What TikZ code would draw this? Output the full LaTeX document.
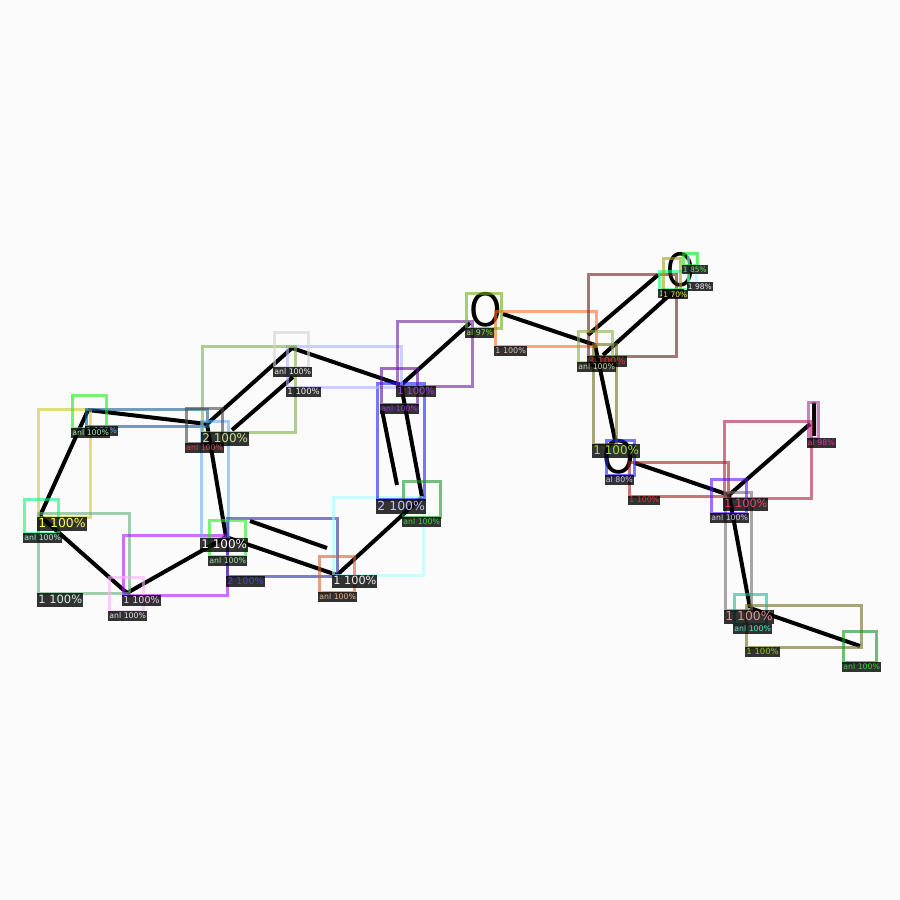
\documentclass[tikz,border=0pt]{standalone}
\usepackage{fontspec}
\setmainfont{DejaVu Sans}
\usetikzlibrary{fit}

\tikzset{
    edgehue/.code={\definecolor{curedge}{HTML}{#1}\pgfkeysalso{draw=curedge}},
    texthue/.code={\definecolor{curtext}{HTML}{#1}\pgfkeysalso{text=curtext}},
    det/.style={edgehue=#1, draw opacity=.6, line width=3.2pt, inner sep=.8pt, outer sep=0pt},
    lab/.style 2 args={texthue=#1, fill=black, fill opacity=.8, text opacity=1,
        font=\fontsize{#2}{#2}\selectfont, text height=#2*.85pt, text depth=#2*.25pt,
        inner xsep=1pt, inner ysep=.5pt, anchor=north west, xshift=-1.5pt, yshift=.8pt},
    bondline/.style={line width=4pt, black},
    glyph/.style={font=\fontsize{46}{46}\selectfont, inner sep=0pt, xscale=.9, transform shape}
}

\begin{document}
\begin{tikzpicture}[x=1pt, y=-1pt]
        \fill[white!98.5!black] (0,0) rectangle (900,900);
        \useasboundingbox (0,0) rectangle (900,900);

        \coordinate (n1) at (88,410);
        \coordinate (n2) at (40,516);
        \coordinate (n3) at (127,593);
        \coordinate (n4) at (226,537);
        \coordinate (n5) at (207,424);
        \coordinate (n6) at (292,348);
        \coordinate (n7) at (401,385);
        \coordinate (n8) at (422,497);
        \coordinate (n9) at (337,575);
        \coordinate (n10) at (470,323);
        \coordinate (n11) at (503,314);
        \coordinate (n12) at (595,345);
        \coordinate (n13) at (615,440);
        \coordinate (n14) at (635,463);
        \coordinate (n15) at (729,495);
        \coordinate (n16) at (810,424);
        \coordinate (n17) at (750,608);
        \coordinate (n18) at (860,646);
        \coordinate (in1) at (232,430);
        \coordinate (in2) at (293,377);
        \coordinate (in3) at (382,410);
        \coordinate (in4) at (397,485);
        \coordinate (in5) at (250,521);
        \coordinate (in6) at (327,548);
        \coordinate (up1) at (588,335);
        \coordinate (up2) at (658,275);
        \coordinate (up3) at (603,355);
        \coordinate (up4) at (673,292);

        \draw[bondline] (n1) -- (n2);
        \draw[bondline] (n1) -- (n5);
        \draw[bondline] (n2) -- (n3);
        \draw[bondline] (n3) -- (n4);
        \draw[bondline] (n5) -- (n4);
        \draw[bondline] (n4) -- (n9);
        \draw[bondline] (n9) -- (n8);
        \draw[bondline] (n7) -- (n8);
        \draw[bondline] (n6) -- (n7);
        \draw[bondline] (n5) -- (n6);
        \draw[bondline] (n7) -- (n10);
        \draw[bondline] (n11) -- (n12);
        \draw[bondline] (n12) -- (n13);
        \draw[bondline] (n14) -- (n15);
        \draw[bondline] (n15) -- (n16);
        \draw[bondline] (n15) -- (n17);
        \draw[bondline] (n17) -- (n18);
        \draw[bondline] (in1) -- (in2);
        \draw[bondline] (in3) -- (in4);
        \draw[bondline] (in5) -- (in6);
        \draw[bondline] (up1) -- (up2);
        \draw[bondline] (up3) -- (up4);

        \node[glyph] (oleft) at (486,310) {O};
        \node[glyph, xscale=.87] (otop) at (681,270) {O};
        \node[glyph] (obot) at (619,457) {O};
        \node[glyph] (iod) at (815,420) {I};

        % bond boxes
        \node[draw, det=CBCB2B, fit={(39.5,410.5) (89.5,516.5)}] (bond1) {};
        \node[draw, det=116196, fit={(87.5,410.5) (206.5,425.5)}] (bond2) {};
        \node[draw, det=61B17B, fit={(39.5,514.5) (128.5,593)}] (bond3) {};
        \node[draw, det=B111FF, fit={(124.5,536.5) (226.5,594.5)}] (bond4) {};
        \node[draw, det=61B1FF, fit={(202.5,422.5) (227.5,538)}] (bond5) {};
        \node[draw, det=2B2BA4, fit={(228.5,519.5) (336.5,575.5)}] (bond6) {};
        \node[draw, det=A4FFFF, fit={(334.5,498) (422.5,574.5)}] (bond7) {};
        \node[draw, det=1E1EFF, fit={(378.5,384.5) (423.5,499)}] (bond8) {};
        \node[draw, det=B1B1FF, fit={(288.5,347.5) (400.5,386.5)}] (bond9) {};
        \node[draw, det=7BB146, fit={(203.5,347.5) (294.5,431.5)}] (bond10) {};
        \node[draw, det=6E1EA4, fit={(398.5,322.5) (471.5,385.5)}] (bond11) {};
        \node[draw, det=FF6E1E, fit={(496.5,312.5) (595.5,345.5)}] (bond12) {};
        \node[draw, det=6E1E1E, fit={(589.5,275.5) (675.5,355.5)}] (bond13) {};
        \node[draw, det=6E6E1E, fit={(594.5,345) (615.5,444)}] (bond14) {};
        \node[draw, det=A41E1E, fit={(630.5,463.5) (727.5,495.5)}] (bond15) {};
        \node[draw, det=B11E46, fit={(725.5,422.5) (810.5,497.5)}] (bond16) {};
        \node[draw, det=6E6E6E, fit={(726.5,493.5) (750.5,609.5)}] (bond17) {};
        \node[draw, det=6E6E1E, fit={(747.5,606.5) (860.5,646.5)}] (bond18) {};

        % atom boxes
        \node[draw, det=11F311, fit={(73.5,396.5) (105.5,428)}] (atom1) {};
        \node[draw, det=11F37B, fit={(25.5,500.5) (57.5,533)}] (atom2) {};
        \node[draw, det=FFB1FF, fit={(110.5,578.5) (142.5,611)}] (atom3) {};
        \node[draw, det=22EE22, fit={(210.5,521.5) (244.5,556)}] (atom4) {};
        \node[draw, det=464646, fit={(187.5,409.5) (221.5,443)}] (atom5) {};
        \node[draw, det=D2D2D2, fit={(275.5,333.5) (307.5,367)}] (atom6) {};
        \node[draw, det=5F1196, fit={(382.5,369.5) (416.5,404)}] (atom7) {};
        \node[draw, det=1E962B, fit={(404.5,482.5) (439.5,517)}] (atom8) {};
        \node[draw, det=D9612B, fit={(320.5,557.5) (353.5,592)}] (atom9) {};
        \node[draw, det=6EB111, fit={(467.5,294.5) (500.5,328)}] (atom10) {};
        \node[draw, det=89B146, fit={(579.5,332) (611.5,362)}] (atom11) {};
        \node[draw, det=6111FF, fit={(712.5,480.5) (745.5,513)}] (atom12) {};
        \node[draw, det=11BE96, fit={(735.5,595.5) (765.5,624)}] (atom13) {};
        \node[draw, det=11961E, fit={(844.5,632.5) (875.5,662)}] (atom14) {};
        \node[draw, det=1E1EFF, fit={(607,441) (634,475)}] (atom15) {};
        \node[draw, det=B12B96, fit={(809,403) (818,438)}] (atom16) {};
        \node[draw, det=A4FFFF, fit={(689,254) (696,282)}] (atom17) {};
        \node[draw, det=11EE11, fit={(684,254) (697,265)}] (atom18) {};
        \node[draw, det=11FF7B, fit={(660.5,272.5) (687.5,289)}] (atom19) {};
        \node[draw, det=A4A411, fit={(664.5,259.5) (680,290)}] (atom20) {};

        % bond labels
        \node[lab={FFFF40}{12.4}] (lab1) at (bond1.south west) {1 100\%};
        \node[lab={60A0D0}{8}] (lab2) at (bond2.south west) {1 100\%};
        \node[lab={D0F0E0}{11.5}] (lab3) at (bond3.south west) {1 100\%};
        \node[lab={F0D0F0}{9.5}] (lab4) at (bond4.south west) {1 100\%};
        \node[lab={FFFFFF}{12}] (lab5) at (bond5.south west) {1 100\%};
        \node[lab={4040E0}{9.5}] (lab6) at (bond6.south west) {2 100\%};
        \node[lab={F0F0F0}{11.3}] (lab7) at (bond7.south west) {1 100\%};
        \node[lab={C0C0FF}{12.5}] (lab8) at (bond8.south west) {2 100\%};
        \node[lab={F0F0F0}{8.5}] (lab9) at (bond9.south west) {1 100\%};
        \node[lab={C8E090}{12}] (lab10) at (bond10.south west) {2 100\%};
        \node[lab={A040E0}{9.8}] (lab11) at (bond11.south west) {1 100\%};
        \node[lab={E0C0B0}{8}] (lab12) at (bond12.south west) {1 100\%};
        \node[lab={E03030}{9.8}] (lab13) at (bond13.south west) {3 100\%};
        \node[lab={A0E030}{12}] (lab14) at (bond14.south west) {1 100\%};
        \node[lab={E03030}{7.8}] (lab15) at (bond15.south west) {1 100\%};
        \node[lab={F04070}{11.3}] (lab16) at (bond16.south west) {1 100\%};
        \node[lab={E09090}{12.4}] (lab17) at (bond17.south west) {1 100\%};
        \node[lab={90C020}{8.5}] (lab18) at (bond18.south west) {1 100\%};

        % atom labels
        \node[lab={A0F0A0}{7.8}] (alab1) at (atom1.south west) {anl 100\%};
        \node[lab={A0F0D0}{7.8}] (alab2) at (atom2.south west) {anl 100\%};
        \node[lab={E0E0E0}{7.8}] (alab3) at (atom3.south west) {anl 100\%};
        \node[lab={A0E0A0}{7.8}] (alab4) at (atom4.south west) {anl 100\%};
        \node[lab={D04040}{7.8}] (alab5) at (atom5.south west) {anl 100\%};
        \node[lab={F0F0F0}{7.8}] (alab6) at (atom6.south west) {anl 100\%};
        \node[lab={A030E0}{7.8}] (alab7) at (atom7.south west) {anl 100\%};
        \node[lab={40D040}{7.8}] (alab8) at (atom8.south west) {anl 100\%};
        \node[lab={E0B090}{7.8}] (alab9) at (atom9.south west) {anl 100\%};
        \node[lab={90E040}{7.8}] (alab10) at (atom10.south west) {al 97\%};
        \node[lab={C0D8A0}{7.8}] (alab11) at (atom11.south west) {anl 100\%};
        \node[lab={D0C0FF}{7.8}] (alab12) at (atom12.south west) {anl 100\%};
        \node[lab={50E0C0}{7.8}] (alab13) at (atom13.south west) {anl 100\%};
        \node[lab={30D030}{7.8}] (alab14) at (atom14.south west) {anl 100\%};
        \node[lab={C0C0FF}{7.8}] (alab15) at (atom15.south west) {al 80\%};
        \node[lab={E030A0}{7.8}] (alab16) at (atom16.south west) {al 98\%};
        \node[lab={F0F0F0}{7.5}] (alab17) at (atom17.south west) {1 98\%};
        \node[lab={60F060}{7.5}] (alab18) at (atom18.south west) {1 85\%};
        \node[lab={A0FFD0}{7.5}] (alab19) at (atom19.south west) {1 70\%};
        \node[lab={F0F040}{7.5}] (alab20) at (atom20.south west) {1 70\%};
    \end{tikzpicture}
\end{document}
